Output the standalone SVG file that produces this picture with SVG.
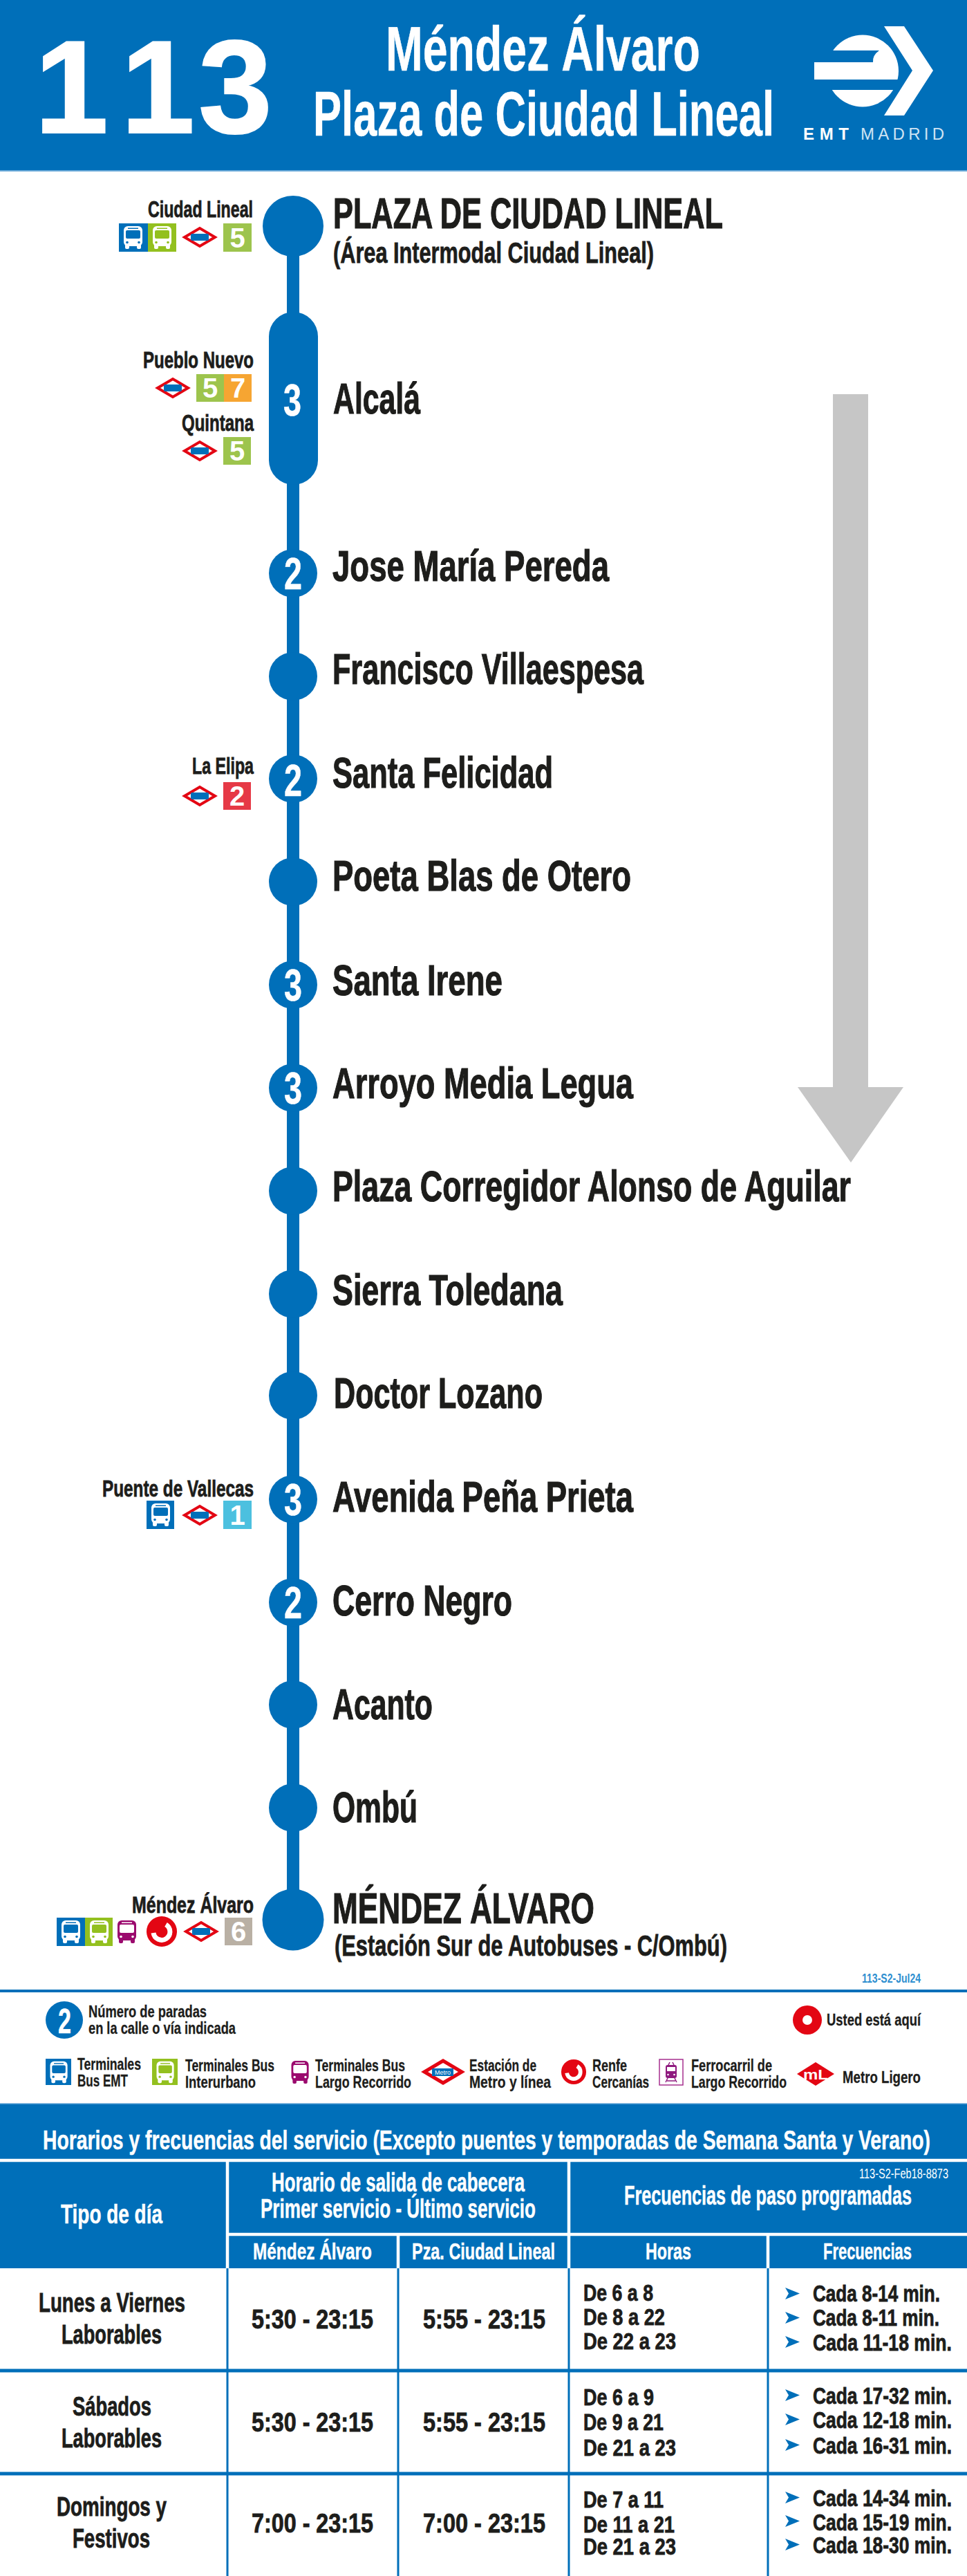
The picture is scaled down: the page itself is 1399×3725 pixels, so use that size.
<svg xmlns="http://www.w3.org/2000/svg" xmlns:xlink="http://www.w3.org/1999/xlink" width="1399" height="3725" viewBox="0 0 1399 3725">
<style>
text{font-family:"Liberation Sans Narrow","Liberation Sans",Arial,sans-serif;font-weight:700}
.d{fill:#1d1d1b;stroke:#1d1d1b;stroke-width:.8}
.w{fill:#fff;stroke:#fff;stroke-width:.5}
.n{font-size:63px;stroke-width:1.2}
.s{font-size:43px}
.l{font-size:33px}
.g{font-size:24px;stroke-width:.3}
.h{font-size:39px}
.c{font-size:33px}
.b{font-size:38px}
.q{font-size:33px}
.dg{font-family:"Liberation Sans",Arial,sans-serif;fill:#fff;font-size:40px;text-anchor:middle}
.sd{fill:#fff;font-size:64px;stroke:#fff;stroke-width:.5}
.st{fill:#006fb9}
.bl{fill:#006fb9}
.gr{fill:#93c01f}
.lg{fill:#9dc44d}
.tl{stroke:#006fb9;stroke-width:3;fill:none}
.th{stroke:#006fb9;stroke-width:5;fill:none}
.wl{stroke:#fff;stroke-width:4.5;fill:none}
</style>
<defs>
<g id="bus">
<rect x="7" y="4" width="27" height="29" rx="6"/>
<rect x="9" y="30" width="6" height="7" rx="2"/>
<rect x="26" y="30" width="6" height="7" rx="2"/>
<rect x="10" y="10" width="21" height="12" rx="2" fill="currentColor"/>
<rect x="13" y="6.500" width="15" height="1.500" fill="currentColor"/>
<circle cx="12" cy="27.500" r="1.800" fill="currentColor"/>
<circle cx="29" cy="27.500" r="1.800" fill="currentColor"/>
</g>
<g id="metro">
<polygon points="22,0 0,13 -22,0 0,-13" fill="#fff" stroke="#e30613" stroke-width="4"/>
<rect x="-13" y="-5" width="26" height="10" rx="2" fill="#006fb9"/>
</g>
<g id="renfe">
<circle r="22" fill="#e30613"/>
<path d="M6,-10 A12,12 0 1 1 -12,2" fill="none" stroke="#fff" stroke-width="7"/>
</g>
<polygon id="pt" points="0,0 21,8.500 0,17 5,8.500" fill="#006fb9"/>
</defs>
<rect width="1399" height="3725" fill="#fff"/>

<g id="header">
<rect width="1399" height="247" class="bl"/>
<rect y="246" width="1399" height="2" fill="#6aa9d8"/>
<text x="50 175 287" y="192" font-size="192" fill="#fff" stroke="#fff" stroke-width="2" style="font-family:'Liberation Sans',Arial,sans-serif">113</text>
<text class="w" x="558" y="102" font-size="90" textLength="455" lengthAdjust="spacingAndGlyphs">Méndez Álvaro</text>
<text class="w" x="453" y="196" font-size="90" textLength="667" lengthAdjust="spacingAndGlyphs">Plaza de Ciudad Lineal</text>
</g>
<g id="logo">
<circle cx="1248" cy="102.500" r="52" fill="#fff"/>
<path d="M1190,73H1272Q1262,80 1263,90H1190Z" class="bl"/>
<rect x="1190" y="115" width="115" height="15" class="bl"/>
<rect x="1178" y="90" width="95" height="25" fill="#fff"/>
<polygon points="1279,38 1308,38 1350,102 1308,167 1279,167 1320,102" fill="#fff"/>
<text x="1162" y="202" font-size="24" fill="#fff" textLength="66" lengthAdjust="spacing" style="font-family:'Liberation Sans',Arial,sans-serif">EMT</text>
<text x="1245" y="202" font-size="24" fill="#cfe3f3" textLength="121" lengthAdjust="spacing" style="font-family:'Liberation Sans',Arial,sans-serif;font-weight:400">MADRID</text>
</g>

<g id="connectors">
<rect x="415" y="327" width="18" height="2449" class="st"/>
</g>

<g id="direction-arrow">
<polygon points="1205,570 1256,570 1256,1572 1307,1572 1231,1681 1154,1572 1205,1572" fill="#c6c6c6"/>
</g>

<g id="stop-plaza-ciudad-lineal">
<circle cx="424" cy="327" r="44" class="st"/>
<text class="d n" x="482" y="330" textLength="564" lengthAdjust="spacingAndGlyphs">PLAZA DE CIUDAD LINEAL</text>
<text class="d s" x="482" y="380" textLength="464" lengthAdjust="spacingAndGlyphs">(Área Intermodal Ciudad Lineal)</text>
<text class="d l" x="214" y="314" textLength="152" lengthAdjust="spacingAndGlyphs">Ciudad Lineal</text>
<g transform="translate(172,323)"><rect width="42" height="41" class="bl"/><use xlink:href="#bus" href="#bus" fill="#fff" color="#006fb9"/></g>
<g transform="translate(214,323)"><rect width="41" height="41" class="gr"/><use xlink:href="#bus" href="#bus" fill="#fff" color="#93c01f"/></g>
<use xlink:href="#metro" href="#metro" transform="translate(289,343)"/>
<rect x="323" y="323" width="41" height="41" class="lg"/><text class="dg" x="343.500" y="358">5</text>
</g>

<g id="stop-alcala">
<rect x="389" y="451" width="71" height="250" rx="35.500" class="st"/>
<text class="sd" x="410" y="601" textLength="26" lengthAdjust="spacingAndGlyphs">3</text>
<text class="d n" x="482" y="598" textLength="126" lengthAdjust="spacingAndGlyphs">Alcalá</text>
<text class="d l" x="207" y="532" textLength="160" lengthAdjust="spacingAndGlyphs">Pueblo Nuevo</text>
<use xlink:href="#metro" href="#metro" transform="translate(250,561)"/>
<rect x="284" y="541" width="40" height="40" class="lg"/><text class="dg" x="304" y="575">5</text>
<rect x="324" y="541" width="40" height="40" fill="#f6a532"/><text class="dg" x="344" y="575">7</text>
<text class="d l" x="263" y="623" textLength="104" lengthAdjust="spacingAndGlyphs">Quintana</text>
<use xlink:href="#metro" href="#metro" transform="translate(289,652)"/>
<rect x="323" y="632" width="40" height="40" class="lg"/><text class="dg" x="343" y="666">5</text>
</g>

<g id="stop-jose-maria-pereda">
<circle cx="424" cy="829" r="35" class="st"/>
<text class="sd" x="411" y="852" textLength="26" lengthAdjust="spacingAndGlyphs">2</text>
<text class="d n" x="481" y="840" textLength="400" lengthAdjust="spacingAndGlyphs">Jose María Pereda</text>
</g>
<g id="stop-francisco-villaespesa">
<circle cx="424" cy="978" r="35" class="st"/>
<text class="d n" x="481" y="989" textLength="450" lengthAdjust="spacingAndGlyphs">Francisco Villaespesa</text>
</g>
<g id="stop-santa-felicidad">
<circle cx="424" cy="1126" r="35" class="st"/>
<text class="sd" x="411" y="1151" textLength="26" lengthAdjust="spacingAndGlyphs">2</text>
<text class="d n" x="481" y="1139" textLength="319" lengthAdjust="spacingAndGlyphs">Santa Felicidad</text>
<text class="d l" x="278" y="1119" textLength="89" lengthAdjust="spacingAndGlyphs">La Elipa</text>
<use xlink:href="#metro" href="#metro" transform="translate(289,1151)"/>
<rect x="323" y="1131" width="40" height="40" fill="#e63946"/><text class="dg" x="343" y="1165">2</text>
</g>
<g id="stop-poeta-blas-de-otero">
<circle cx="424" cy="1275" r="35" class="st"/>
<text class="d n" x="481" y="1288" textLength="432" lengthAdjust="spacingAndGlyphs">Poeta Blas de Otero</text>
</g>
<g id="stop-santa-irene">
<circle cx="424" cy="1424" r="35" class="st"/>
<text class="sd" x="411" y="1447" textLength="26" lengthAdjust="spacingAndGlyphs">3</text>
<text class="d n" x="481" y="1439" textLength="246" lengthAdjust="spacingAndGlyphs">Santa Irene</text>
</g>
<g id="stop-arroyo-media-legua">
<circle cx="424" cy="1573" r="35" class="st"/>
<text class="sd" x="411" y="1596" textLength="26" lengthAdjust="spacingAndGlyphs">3</text>
<text class="d n" x="481" y="1588" textLength="435" lengthAdjust="spacingAndGlyphs">Arroyo Media Legua</text>
</g>
<g id="stop-plaza-corregidor">
<circle cx="424" cy="1722" r="35" class="st"/>
<text class="d n" x="481" y="1737" textLength="750" lengthAdjust="spacingAndGlyphs">Plaza Corregidor Alonso de Aguilar</text>
</g>
<g id="stop-sierra-toledana">
<circle cx="424" cy="1871" r="35" class="st"/>
<text class="d n" x="481" y="1887" textLength="333" lengthAdjust="spacingAndGlyphs">Sierra Toledana</text>
</g>
<g id="stop-doctor-lozano">
<circle cx="424" cy="2018" r="35" class="st"/>
<text class="d n" x="483" y="2036" textLength="302" lengthAdjust="spacingAndGlyphs">Doctor Lozano</text>
</g>
<g id="stop-avenida-pena-prieta">
<circle cx="424" cy="2168" r="35" class="st"/>
<text class="sd" x="411" y="2191" textLength="26" lengthAdjust="spacingAndGlyphs">3</text>
<text class="d n" x="481" y="2186" textLength="435" lengthAdjust="spacingAndGlyphs">Avenida Peña Prieta</text>
<text class="d l" x="148" y="2164" textLength="219" lengthAdjust="spacingAndGlyphs">Puente de Vallecas</text>
<g transform="translate(212,2170)"><rect width="40" height="41" class="bl"/><use xlink:href="#bus" href="#bus" fill="#fff" color="#006fb9"/></g>
<use xlink:href="#metro" href="#metro" transform="translate(289,2191)"/>
<rect x="323" y="2170" width="41" height="41" fill="#4cc0df"/><text class="dg" x="343.500" y="2205">1</text>
</g>
<g id="stop-cerro-negro">
<circle cx="424" cy="2317" r="35" class="st"/>
<text class="sd" x="411" y="2340" textLength="26" lengthAdjust="spacingAndGlyphs">2</text>
<text class="d n" x="481" y="2336" textLength="260" lengthAdjust="spacingAndGlyphs">Cerro Negro</text>
</g>
<g id="stop-acanto">
<circle cx="424" cy="2465" r="35" class="st"/>
<text class="d n" x="481" y="2486" textLength="145" lengthAdjust="spacingAndGlyphs">Acanto</text>
</g>
<g id="stop-ombu">
<circle cx="424" cy="2614" r="35" class="st"/>
<text class="d n" x="481" y="2635" textLength="123" lengthAdjust="spacingAndGlyphs">Ombú</text>
</g>
<g id="stop-mendez-alvaro">
<circle cx="424" cy="2776" r="44.500" class="st"/>
<text class="d n" x="481" y="2781" textLength="379" lengthAdjust="spacingAndGlyphs">MÉNDEZ ÁLVARO</text>
<text class="d s" x="484" y="2828" textLength="568" lengthAdjust="spacingAndGlyphs">(Estación Sur de Autobuses - C/Ombú)</text>
<text class="d l" x="191" y="2766" textLength="176" lengthAdjust="spacingAndGlyphs">Méndez Álvaro</text>
<g transform="translate(82,2773)"><rect width="41" height="41" class="bl"/><use xlink:href="#bus" href="#bus" fill="#fff" color="#006fb9"/></g>
<g transform="translate(123,2773)"><rect width="40" height="41" class="gr"/><use xlink:href="#bus" href="#bus" fill="#fff" color="#93c01f"/></g>
<use xlink:href="#bus" href="#bus" transform="translate(163,2773)" fill="#9b0a6e" color="#fff"/>
<use xlink:href="#renfe" href="#renfe" transform="translate(234,2793)"/>
<use xlink:href="#metro" href="#metro" transform="translate(291,2793)"/>
<rect x="325" y="2773" width="40" height="40" fill="#b9b0a4"/><text class="dg" x="345" y="2807">6</text>
</g>

<g id="legend">
<text x="1247" y="2867" font-size="19" fill="#2f8fd0" textLength="85" lengthAdjust="spacingAndGlyphs">113-S2-Jul24</text>
<rect y="2877" width="1399" height="4" class="bl"/>
<circle cx="93" cy="2921" r="27" class="st"/>
<text x="84" y="2940" font-size="50" class="w" textLength="19" lengthAdjust="spacingAndGlyphs">2</text>
<text class="d g" x="128" y="2917" textLength="171" lengthAdjust="spacingAndGlyphs">Número de paradas</text>
<text class="d g" x="128" y="2941" textLength="213" lengthAdjust="spacingAndGlyphs">en la calle o vía indicada</text>
<circle cx="1168" cy="2921" r="21" fill="#e30613"/><circle cx="1168" cy="2921" r="7" fill="#fff"/>
<text class="d g" x="1196" y="2929" textLength="136" lengthAdjust="spacingAndGlyphs">Usted está aquí</text>
<g transform="translate(66,2977)"><rect width="37" height="38" class="bl"/><use xlink:href="#bus" href="#bus" transform="scale(.93,.95)" fill="#fff" color="#006fb9"/></g>
<text class="d g" x="112" y="2993" textLength="92" lengthAdjust="spacingAndGlyphs">Terminales</text>
<text class="d g" x="112" y="3017" textLength="73" lengthAdjust="spacingAndGlyphs">Bus EMT</text>
<g transform="translate(220,2977)"><rect width="37" height="38" class="gr"/><use xlink:href="#bus" href="#bus" transform="scale(.93,.95)" fill="#fff" color="#93c01f"/></g>
<text class="d g" x="268" y="2995" textLength="129" lengthAdjust="spacingAndGlyphs">Terminales Bus</text>
<text class="d g" x="268" y="3019" textLength="102" lengthAdjust="spacingAndGlyphs">Interurbano</text>
<use xlink:href="#bus" href="#bus" transform="translate(415,2976) scale(.93,1)" fill="#9b0a6e" color="#fff"/>
<text class="d g" x="456" y="2995" textLength="130" lengthAdjust="spacingAndGlyphs">Terminales Bus</text>
<text class="d g" x="456" y="3019" textLength="139" lengthAdjust="spacingAndGlyphs">Largo Recorrido</text>
<g transform="translate(641,2996)">
<polygon points="27,0 0,16 -27,0 0,-16" fill="#fff" stroke="#e30613" stroke-width="5"/>
<rect x="-16" y="-5" width="31" height="11" rx="1" fill="#006fb9"/>
<text x="-12" y="4" font-size="9" fill="#fff" textLength="23" lengthAdjust="spacingAndGlyphs" style="font-weight:400">Metro</text>
</g>
<text class="d g" x="679" y="2995" textLength="97" lengthAdjust="spacingAndGlyphs">Estación de</text>
<text class="d g" x="679" y="3019" textLength="118" lengthAdjust="spacingAndGlyphs">Metro y línea</text>
<use xlink:href="#renfe" href="#renfe" transform="translate(830,2996) scale(.82)"/>
<text class="d g" x="857" y="2995" textLength="50" lengthAdjust="spacingAndGlyphs">Renfe</text>
<text class="d g" x="857" y="3019" textLength="82" lengthAdjust="spacingAndGlyphs">Cercanías</text>
<g transform="translate(971,2996)">
<rect x="-17" y="-18" width="34" height="37" fill="#fff" stroke="#a6318f" stroke-width="1.500"/>
<rect x="-8" y="-10" width="16" height="19" rx="3" fill="#8f1a7f"/>
<rect x="-6" y="-7" width="12" height="6" fill="#fff"/>
<circle cx="-4.500" cy="4" r="1.300" fill="#fff"/>
<circle cx="4.500" cy="4" r="1.300" fill="#fff"/>
<path d="M-5,9 L-8,15 M5,9 L8,15 M-6,13H6 M-4,-10 L-2,-14 M4,-10 L2,-14" stroke="#8f1a7f" stroke-width="1.500" fill="none"/>
</g>
<text class="d g" x="1000" y="2995" textLength="117" lengthAdjust="spacingAndGlyphs">Ferrocarril de</text>
<text class="d g" x="1000" y="3019" textLength="138" lengthAdjust="spacingAndGlyphs">Largo Recorrido</text>
<g transform="translate(1180,2999)">
<polygon points="27,0 0,17 -27,0 0,-17" fill="#e30613"/>
<text x="-18" y="8" font-size="21" fill="#fff" textLength="36" lengthAdjust="spacingAndGlyphs">mL</text>
</g>
<text class="d g" x="1219" y="3012" textLength="113" lengthAdjust="spacingAndGlyphs">Metro Ligero</text>
</g>

<g id="timetable">
<rect y="3042" width="1399" height="238" class="bl"/>
<rect y="3041" width="1399" height="1.500" fill="#8fbfe3"/>
<text class="w h" x="62" y="3108" textLength="1284" lengthAdjust="spacingAndGlyphs">Horarios y frecuencias del servicio (Excepto puentes y temporadas de Semana Santa y Verano)</text>
<path class="wl" d="M0,3124H1399M329,3124V3280M823,3124V3280M329,3231H1399M576,3231V3280M1111,3231V3280"/>
<text class="w h" x="88" y="3215" textLength="147" lengthAdjust="spacingAndGlyphs">Tipo de día</text>
<text class="w h" x="393" y="3169" textLength="366" lengthAdjust="spacingAndGlyphs">Horario de salida de cabecera</text>
<text class="w h" x="377" y="3207" textLength="398" lengthAdjust="spacingAndGlyphs">Primer servicio - Último servicio</text>
<text class="w c" x="366" y="3267" textLength="172" lengthAdjust="spacingAndGlyphs">Méndez Álvaro</text>
<text class="w c" x="596" y="3267" textLength="207" lengthAdjust="spacingAndGlyphs">Pza. Ciudad Lineal</text>
<text x="1243" y="3150" font-size="20" fill="#fff" textLength="129" lengthAdjust="spacingAndGlyphs" style="font-weight:400">113-S2-Feb18-8873</text>
<text class="w h" x="903" y="3188" textLength="416" lengthAdjust="spacingAndGlyphs">Frecuencias de paso programadas</text>
<text class="w c" x="934" y="3267" textLength="66" lengthAdjust="spacingAndGlyphs">Horas</text>
<text class="w c" x="1191" y="3267" textLength="128" lengthAdjust="spacingAndGlyphs">Frecuencias</text>
<path class="tl" d="M329,3280V3725M576,3280V3725M823,3280V3725M1111,3280V3725"/>
<path class="th" d="M0,3428H1399M0,3577H1399"/>

<text class="d b" x="56" y="3343" textLength="212" lengthAdjust="spacingAndGlyphs">Lunes a Viernes</text>
<text class="d b" x="89" y="3389" textLength="145" lengthAdjust="spacingAndGlyphs">Laborables</text>
<text class="d b" x="364" y="3367" textLength="176" lengthAdjust="spacingAndGlyphs">5:30 - 23:15</text>
<text class="d b" x="612" y="3367" textLength="177" lengthAdjust="spacingAndGlyphs">5:55 - 23:15</text>
<text class="d q" x="844" y="3327" textLength="101" lengthAdjust="spacingAndGlyphs">De 6 a 8</text>
<text class="d q" x="844" y="3362" textLength="118" lengthAdjust="spacingAndGlyphs">De 8 a 22</text>
<text class="d q" x="844" y="3397" textLength="134" lengthAdjust="spacingAndGlyphs">De 22 a 23</text>
<use xlink:href="#pt" href="#pt" transform="translate(1136,3308)"/>
<use xlink:href="#pt" href="#pt" transform="translate(1136,3343)"/>
<use xlink:href="#pt" href="#pt" transform="translate(1136,3378)"/>
<text class="d q" x="1176" y="3328" textLength="184" lengthAdjust="spacingAndGlyphs">Cada 8-14 min.</text>
<text class="d q" x="1176" y="3363" textLength="183" lengthAdjust="spacingAndGlyphs">Cada 8-11 min.</text>
<text class="d q" x="1176" y="3399" textLength="201" lengthAdjust="spacingAndGlyphs">Cada 11-18 min.</text>

<text class="d b" x="105" y="3493" textLength="114" lengthAdjust="spacingAndGlyphs">Sábados</text>
<text class="d b" x="89" y="3539" textLength="145" lengthAdjust="spacingAndGlyphs">Laborables</text>
<text class="d b" x="364" y="3516" textLength="176" lengthAdjust="spacingAndGlyphs">5:30 - 23:15</text>
<text class="d b" x="612" y="3516" textLength="177" lengthAdjust="spacingAndGlyphs">5:55 - 23:15</text>
<text class="d q" x="844" y="3478" textLength="102" lengthAdjust="spacingAndGlyphs">De 6 a 9</text>
<text class="d q" x="844" y="3514" textLength="116" lengthAdjust="spacingAndGlyphs">De 9 a 21</text>
<text class="d q" x="844" y="3551" textLength="134" lengthAdjust="spacingAndGlyphs">De 21 a 23</text>
<use xlink:href="#pt" href="#pt" transform="translate(1136,3455)"/>
<use xlink:href="#pt" href="#pt" transform="translate(1136,3490)"/>
<use xlink:href="#pt" href="#pt" transform="translate(1136,3527)"/>
<text class="d q" x="1176" y="3476" textLength="201" lengthAdjust="spacingAndGlyphs">Cada 17-32 min.</text>
<text class="d q" x="1176" y="3511" textLength="201" lengthAdjust="spacingAndGlyphs">Cada 12-18 min.</text>
<text class="d q" x="1176" y="3548" textLength="201" lengthAdjust="spacingAndGlyphs">Cada 16-31 min.</text>

<text class="d b" x="82" y="3638" textLength="159" lengthAdjust="spacingAndGlyphs">Domingos y</text>
<text class="d b" x="105" y="3684" textLength="112" lengthAdjust="spacingAndGlyphs">Festivos</text>
<text class="d b" x="364" y="3662" textLength="176" lengthAdjust="spacingAndGlyphs">7:00 - 23:15</text>
<text class="d b" x="612" y="3662" textLength="177" lengthAdjust="spacingAndGlyphs">7:00 - 23:15</text>
<text class="d q" x="844" y="3626" textLength="116" lengthAdjust="spacingAndGlyphs">De 7 a 11</text>
<text class="d q" x="844" y="3662" textLength="132" lengthAdjust="spacingAndGlyphs">De 11 a 21</text>
<text class="d q" x="844" y="3694" textLength="134" lengthAdjust="spacingAndGlyphs">De 21 a 23</text>
<use xlink:href="#pt" href="#pt" transform="translate(1136,3603)"/>
<use xlink:href="#pt" href="#pt" transform="translate(1136,3637)"/>
<use xlink:href="#pt" href="#pt" transform="translate(1136,3671)"/>
<text class="d q" x="1176" y="3624" textLength="201" lengthAdjust="spacingAndGlyphs">Cada 14-34 min.</text>
<text class="d q" x="1176" y="3659" textLength="201" lengthAdjust="spacingAndGlyphs">Cada 15-19 min.</text>
<text class="d q" x="1176" y="3692" textLength="201" lengthAdjust="spacingAndGlyphs">Cada 18-30 min.</text>
</g>
</svg>
